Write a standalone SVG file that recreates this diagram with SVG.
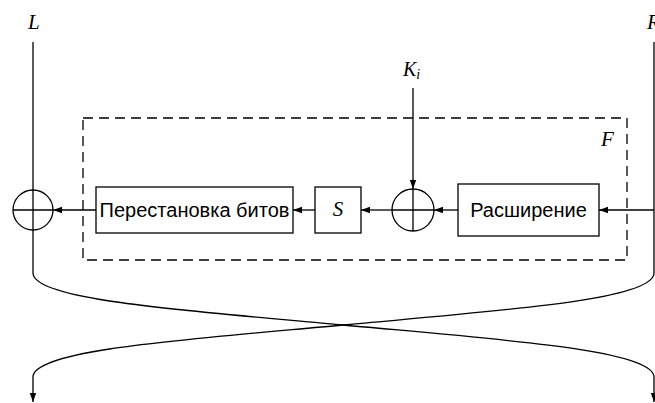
<svg xmlns="http://www.w3.org/2000/svg" width="655" height="403" viewBox="0 0 655 403">
<defs>
<style>
.ln{fill:none;stroke:#000;stroke-width:1.3}
.box{fill:#fff;stroke:#000;stroke-width:1.3}
.dash{fill:none;stroke:#000;stroke-width:1.3;stroke-dasharray:10 6}
.it{font-family:"Liberation Serif",serif;font-style:italic;fill:#000}
.sf{font-family:"Liberation Sans",Arial,sans-serif;font-size:20px;fill:#000}
</style>
<marker id="ah" markerWidth="10" markerHeight="8" refX="9" refY="4" orient="auto" markerUnits="userSpaceOnUse">
<path d="M0,0.8 L9,4 L0,7.2 Z" fill="#000"/>
</marker>
</defs>
<rect width="655" height="403" fill="#fff"/>
<g id="frameF">
<rect class="dash" x="83" y="118" width="544" height="142"/>
<text class="it" x="601" y="146" font-size="21">F</text>
</g>
<g id="labelL"><text class="it" x="28" y="29" font-size="21">L</text></g>
<g id="labelR"><text class="it" x="647" y="29" font-size="21">R</text></g>
<g id="labelKi"><text class="it" x="403" y="76" font-size="20">K<tspan font-size="14" dy="3">i</tspan></text></g>
<g id="connectors">
<line class="ln" x1="33" y1="42" x2="33" y2="273"/>
<line class="ln" x1="654" y1="42" x2="654" y2="273"/>
<line class="ln" x1="413" y1="88" x2="413" y2="189" marker-end="url(#ah)"/>
<line class="ln" x1="654" y1="210" x2="599" y2="210" marker-end="url(#ah)"/>
<line class="ln" x1="458" y1="210" x2="434" y2="210" marker-end="url(#ah)"/>
<line class="ln" x1="392" y1="210" x2="361" y2="210" marker-end="url(#ah)"/>
<line class="ln" x1="315" y1="210" x2="293" y2="210" marker-end="url(#ah)"/>
<line class="ln" x1="96" y1="210" x2="53" y2="210" marker-end="url(#ah)"/>
<path class="ln" d="M33,273 C33,300 180,310 343,325 C506,340 654,350 654,377 L654,402" marker-end="url(#ah)"/>
<path class="ln" d="M654,273 C654,300 506,310 343,325 C180,340 33,350 33,377 L33,402" marker-end="url(#ah)"/>
</g>
<g id="xorL">
<circle class="ln" cx="33" cy="210" r="20"/>
<line class="ln" x1="13" y1="210" x2="53" y2="210"/>
</g>
<g id="xorK">
<circle class="ln" cx="413" cy="210" r="21"/>
<line class="ln" x1="413" y1="189" x2="413" y2="231"/>
<line class="ln" x1="392" y1="210" x2="434" y2="210"/>
</g>
<g id="perm">
<rect class="box" x="96" y="187" width="197" height="46"/>
<text class="sf" x="194.5" y="217" text-anchor="middle">Перестановка битов</text>
</g>
<g id="sbox">
<rect class="box" x="315" y="187" width="46" height="46"/>
<text class="it" x="338" y="216" font-size="21" text-anchor="middle">S</text>
</g>
<g id="expand">
<rect class="box" x="458" y="184" width="141" height="52"/>
<text class="sf" x="528.5" y="217" text-anchor="middle">Расширение</text>
</g>
</svg>
